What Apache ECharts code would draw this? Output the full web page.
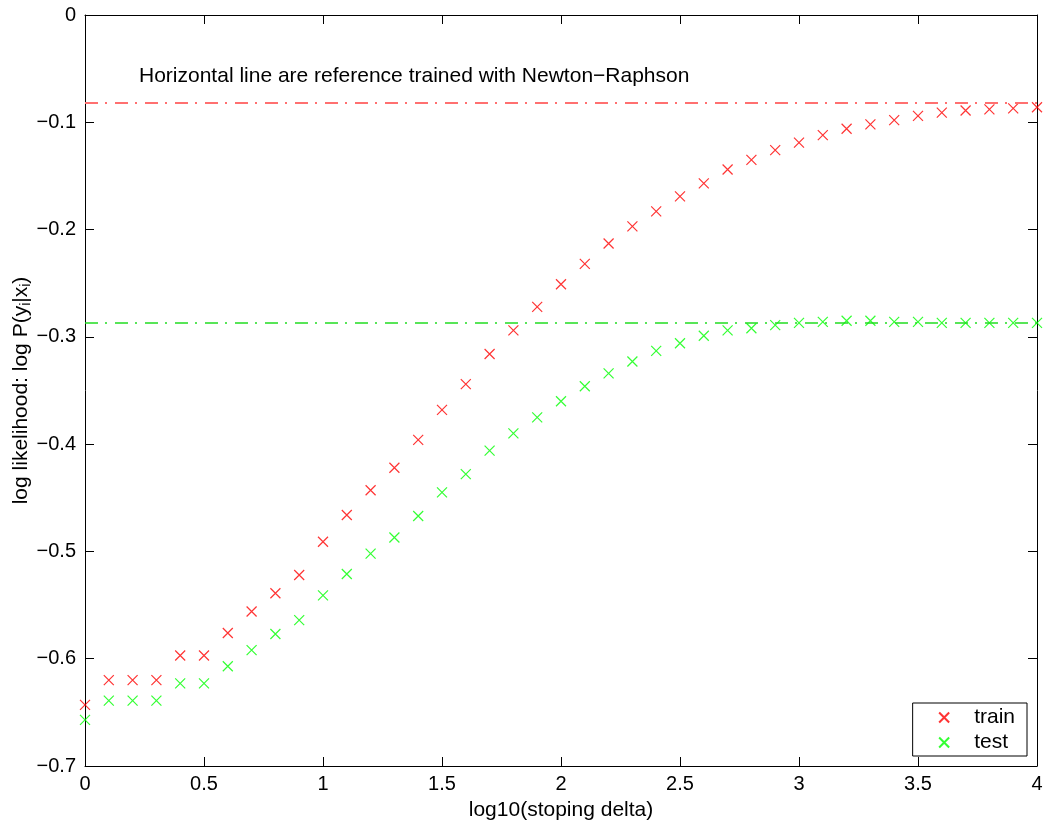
<!DOCTYPE html>
<html>
<head>
<meta charset="utf-8">
<script src="https://cdn.jsdelivr.net/npm/echarts@6/dist/echarts.min.js"></script>
<style>
  html, body { margin: 0; padding: 0; background: #fff; }
  #chart { width: 1043px; height: 825px; }
</style>
</head>
<body>
<div id="chart"></div>
<script>
  // log10(stoping delta), 0 .. 4 step 0.1
  var deltas = [0, 0.1, 0.2, 0.3, 0.4, 0.5, 0.6, 0.7, 0.8, 0.9, 1.0, 1.1, 1.2, 1.3, 1.4, 1.5, 1.6, 1.7, 1.8, 1.9,
    2.0, 2.1, 2.2, 2.3, 2.4, 2.5, 2.6, 2.7, 2.8, 2.9, 3.0, 3.1, 3.2, 3.3, 3.4, 3.5, 3.6, 3.7, 3.8, 3.9, 4.0];
  var trainLL = [-0.643, -0.620, -0.620, -0.620, -0.597, -0.597, -0.576, -0.556, -0.539, -0.522,
    -0.491, -0.466, -0.443, -0.422, -0.396, -0.368, -0.344, -0.316, -0.294, -0.272,
    -0.251, -0.232, -0.213, -0.197, -0.183, -0.169, -0.157, -0.144, -0.135, -0.126,
    -0.119, -0.112, -0.106, -0.102, -0.098, -0.094, -0.091, -0.089, -0.088, -0.087, -0.086];
  var testLL = [-0.657, -0.639, -0.639, -0.639, -0.623, -0.623, -0.607, -0.592, -0.577, -0.564,
    -0.541, -0.521, -0.502, -0.487, -0.467, -0.445, -0.428, -0.406, -0.390, -0.375,
    -0.360, -0.346, -0.334, -0.323, -0.313, -0.306, -0.299, -0.294, -0.292, -0.289,
    -0.287, -0.286, -0.285, -0.285, -0.286, -0.286, -0.287, -0.287, -0.287, -0.287, -0.287];
  // Newton-Raphson reference values
  var refTrain = -0.082;
  var refTest = -0.287;
  var xTicks = [0, 0.5, 1, 1.5, 2, 2.5, 3, 3.5, 4];
  var yTicks = [-0.7, -0.6, -0.5, -0.4, -0.3, -0.2, -0.1, 0];

  var chart = echarts.init(document.getElementById('chart'));
  var font = 'Liberation Sans, Arial, Helvetica, sans-serif';
  var crossPath = 'path://M0,0L10,10M10,0L0,10';

  function pairs(ys) {
    var out = [];
    for (var i = 0; i < deltas.length; i++) {
      out.push([deltas[i], ys[i]]);
    }
    return out;
  }

  function minus(v) {
    return String(v).replace('-', '\u2212');
  }

  var axisBase = {
    type: 'value',
    axisLine: { show: true, onZero: false, lineStyle: { color: '#000', width: 1 } },
    axisTick: { show: true, inside: true, length: 9, lineStyle: { color: '#000' } },
    splitLine: { show: false }
  };

  chart.setOption({
    animation: false,
    textStyle: { fontFamily: font },
    grid: { left: 85, right: 6, top: 15, bottom: 59, containLabel: false, outerBoundsMode: 'none' },
    legend: {
      data: ['train', 'test'],
      orient: 'vertical',
      right: 16,
      bottom: 69,
      backgroundColor: '#fff',
      borderColor: '#000',
      borderWidth: 1,
      borderRadius: 0,
      padding: [4, 12, 3, 24],
      itemGap: 4,
      itemWidth: 10,
      itemHeight: 10,
      textStyle: { fontSize: 21, lineHeight: 21, color: '#000', padding: [0, 0, 0, 20], fontFamily: font }
    },
    graphic: [{
      type: 'text',
      left: 139,
      top: 66,
      style: {
        text: 'Horizontal line are reference trained with Newton\u2212Raphson',
        fontSize: 21,
        fontFamily: font,
        fill: '#000'
      }
    }],
    xAxis: [
      Object.assign({}, axisBase, {
        min: 0, max: 4, interval: 0.5,
        name: 'log10(stoping delta)',
        nameLocation: 'middle',
        nameGap: 34,
        nameMoveOverlap: false,
        nameTextStyle: { fontSize: 21, color: '#000' },
        axisLabel: { color: '#000', fontSize: 20, margin: 8 }
      }),
      Object.assign({}, axisBase, {
        position: 'top',
        min: 0, max: 4, interval: 0.5,
        axisLabel: { show: false }
      })
    ],
    yAxis: [
      Object.assign({}, axisBase, {
        min: -0.7, max: 0, interval: 0.1,
        name: '{t|log likelihood: log P(y}{s|i}{t||x}{s|i}{t|)}',
        nameLocation: 'middle',
        nameGap: 52,
        nameMoveOverlap: false,
        nameTextStyle: {
          rich: {
            t: { fontSize: 21, color: '#000', fontFamily: font },
            s: { fontSize: 14, color: '#000', fontFamily: font, verticalAlign: 'bottom', padding: [10, 0, 0, 0] }
          }
        },
        axisLabel: { color: '#000', fontSize: 20, margin: 9, formatter: minus }
      }),
      Object.assign({}, axisBase, {
        position: 'right',
        min: -0.7, max: 0, interval: 0.1,
        axisLabel: { show: false }
      })
    ],
    series: [
      {
        name: 'ref train',
        type: 'line',
        data: [[xTicks[0], refTrain], [xTicks[xTicks.length - 1], refTrain]],
        symbol: 'none',
        silent: true,
        lineStyle: { color: '#ff7070', width: 2, type: [13, 7, 2, 8] }
      },
      {
        name: 'ref test',
        type: 'line',
        data: [[xTicks[0], refTest], [xTicks[xTicks.length - 1], refTest]],
        symbol: 'none',
        silent: true,
        lineStyle: { color: '#22dd22', width: 1.5, type: [13, 7, 2, 8] }
      },
      {
        name: 'train',
        type: 'scatter',
        data: pairs(trainLL),
        symbol: crossPath,
        symbolSize: 10,
        itemStyle: { color: 'none', borderColor: '#ff0000', borderWidth: 1.2 }
      },
      {
        name: 'test',
        type: 'scatter',
        data: pairs(testLL),
        symbol: crossPath,
        symbolSize: 10,
        itemStyle: { color: 'none', borderColor: '#00ff00', borderWidth: 1.2 }
      }
    ]
  });
</script>
</body>
</html>
